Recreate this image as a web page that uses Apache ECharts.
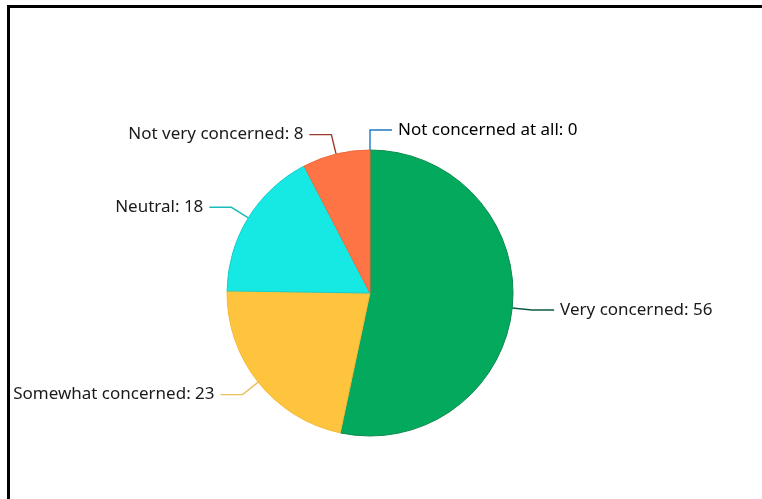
<!DOCTYPE html>
<html>
<head>
<meta charset="utf-8">
<script src="https://cdn.jsdelivr.net/npm/echarts@6/dist/echarts.min.js"></script>
<style>
  body { margin: 0; background: #fff; }
  #frame {
    position: absolute;
    left: 7px;
    top: 5px;
    width: 770px;
    height: 510px;
    border-left: 3px solid #000;
    border-top: 3px solid #000;
  }
  #concern_chart {
    position: absolute;
    left: 0;
    top: 0;
    width: 762px;
    height: 499px;
  }
</style>
</head>
<body>
<div id="frame"></div>
<div id="concern_chart"></div>
<script>
  let categories = ['Very concerned', 'Somewhat concerned', 'Neutral', 'Not very concerned', 'Not concerned at all']
  let values = [56, 23, 18, 8, 0]
  let sliceColors = ['#03a95d', '#fec43e', '#16e9e4', '#ff7445', '#1f78c8']
  let lineColors = ['#0c5a46', '#e9c060', '#1bbdb8', '#9a3a2a', '#1f78c8']
  let edgeColors = ['#0b8a4c', '#f3b93a', '#13cfcb', '#f0683c', '#1f78c8']

  let cx = 370
  let cy = 293
  let r = 143
  let lineLen = 20
  let lineLen2 = 22
  let labelFont = { color: '#1a1a1a', fontSize: 17, fontFamily: 'Noto Sans' }

  let myChart = echarts.init(document.getElementById('concern_chart'))

  // echarts drops labels of zero slices, so those get a hand made label at the start angle
  let zeroLabels = []
  categories.forEach(function (name, i) {
    if (values[i] !== 0) return
    let top = cy - r
    zeroLabels.push({
      type: 'polyline',
      shape: { points: [[cx, top], [cx, top - lineLen], [cx + lineLen2, top - lineLen]] },
      style: { stroke: lineColors[i], lineWidth: 1.4, fill: null }
    }, {
      type: 'text',
      x: cx + lineLen2 + 6,
      y: top - lineLen,
      style: Object.assign({
        text: name + ': ' + values[i],
        verticalAlign: 'middle',
        align: 'left'
      }, labelFont)
    })
  })

  let option = {
    animation: false,
    graphic: zeroLabels,
    series: [{
      type: 'pie',
      center: [cx, cy],
      radius: r,
      startAngle: 90,
      clockwise: true,
      avoidLabelOverlap: false,
      label: Object.assign({
        show: true,
        formatter: '{b}: {c}',
        distanceToLabelLine: 6
      }, labelFont),
      labelLine: {
        show: true,
        length: lineLen,
        length2: lineLen2,
        lineStyle: {
          width: 1.4
        }
      },
      data: categories.map(function (name, i) {
        return {
          name: name,
          value: values[i],
          itemStyle: {
            color: sliceColors[i],
            borderColor: edgeColors[i],
            borderWidth: values[i] === 0 ? 0 : 1
          },
          labelLine: {
            lineStyle: {
              color: lineColors[i]
            }
          }
        }
      })
    }]
  }

  myChart.setOption(option)
</script>
</body>
</html>
